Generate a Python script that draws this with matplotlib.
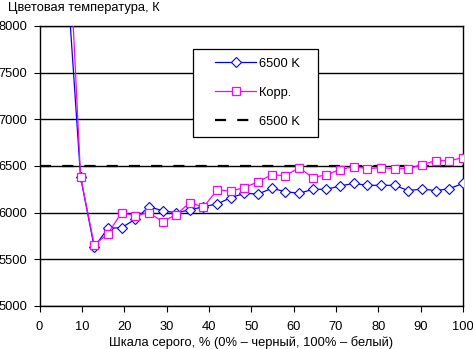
import numpy as np
import matplotlib
matplotlib.use("Agg")
import matplotlib.pyplot as plt
from matplotlib.patches import Rectangle

plt.rcParams['font.family'] = ['Liberation Sans', 'DejaVu Sans']

# Gray levels (32 steps, first visible from step 2)
gray = np.linspace(0, 100, 32)[2:]

temp_6500 = [8550, 6380, 5630, 5833, 5839, 5929, 6064, 6021, 6000, 6029,
             6064, 6093, 6161, 6207, 6200, 6261, 6225, 6207, 6250, 6250,
             6286, 6314, 6293, 6293, 6293, 6236, 6254, 6236, 6257, 6314]
temp_corr = [9400, 6386, 5654, 5775, 6000, 5968, 6000, 5904, 5979, 6107,
             6061, 6243, 6232, 6268, 6332, 6407, 6396, 6482, 6375, 6407,
             6461, 6493, 6471, 6482, 6471, 6471, 6514, 6557, 6557, 6589]
target = 6500

W, H = 473, 349
FS = 9.3
fig = plt.figure(figsize=(W / 100, H / 100), dpi=100)
ax = fig.add_axes([39.6 / W, 1 - 306 / H, (463 - 39.6) / W, (306 - 26) / H])

ax.plot(gray, temp_6500, color='#0000ff', lw=0.9, marker='D', ms=4.8,
        mfc='white', mec='#0000ff', mew=0.8, label='6500 K', zorder=3)
ax.plot(gray, temp_corr, color='#ff00ff', lw=0.9, marker='s', ms=5.4,
        mfc='white', mec='#ff00ff', mew=0.9, label='Корр.', zorder=4)
ax.axhline(target, color='black', lw=1.6, dashes=(5, 5), label='6500 K', zorder=2)

ax.set_xlim(0, 100)
ax.set_ylim(5000, 8000)
ax.set_xticks(np.arange(0, 101, 10))
ax.set_yticks(np.arange(5000, 8001, 500))
ax.yaxis.grid(True, color='black', lw=1.0)
ax.set_axisbelow(True)
for s in ax.spines.values():
    s.set_linewidth(1.0)
ax.tick_params(direction='out', length=4.5, width=0.8, labelsize=FS)
ax.tick_params(axis='y', pad=4.2)
ax.tick_params(axis='x', pad=6)

ax.set_xlabel('Шкала серого, % (0% – черный, 100% – белый)', fontsize=FS, labelpad=2.5)
fig.text(8 / W, 1 - 10.5 / H, 'Цветовая температура, К', fontsize=FS,
         va='baseline', ha='left')

# legend frame drawn by hand, legend itself without frame
ax.add_patch(Rectangle((192.7 / W, 1 - 136.7 / H), (318 - 192.7) / W,
                       (136.7 - 49.3) / H, transform=fig.transFigure,
                       facecolor='white', edgecolor='black', lw=0.9,
                       zorder=5, clip_on=False))
leg = ax.legend(loc='upper left', bbox_to_anchor=(215 / W, 1 - 57.5 / H),
                bbox_transform=fig.transFigure, fontsize=FS, frameon=False,
                borderpad=0, labelspacing=1.32, handlelength=3.2,
                handletextpad=0.2, borderaxespad=0)
leg.set_zorder(6)

fig.savefig('out.png', dpi=100)
